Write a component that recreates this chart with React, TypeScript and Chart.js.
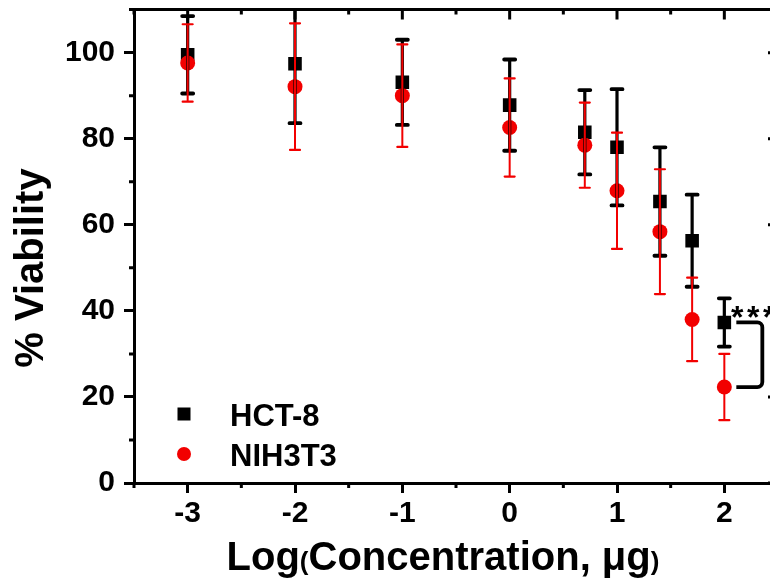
import React, { useEffect, useRef } from "react";
import { Chart, registerables } from "chart.js";

Chart.register(...registerables);

const logConc = [-3, -2, -1, 0, 0.7, 1, 1.4, 1.7, 2];
const hctMean = [99.5, 97.4, 93.1, 87.8, 81.5, 78.0, 65.4, 56.3, 37.3];
const hctErr = [9.0, 13.8, 9.9, 10.6, 9.8, 13.5, 12.6, 10.7, 5.6];
const nihMean = [97.6, 92.1, 90.0, 82.6, 78.5, 67.9, 58.4, 38.0, 22.3];
const nihErr = [9.0, 14.7, 11.9, 11.4, 9.9, 13.5, 14.5, 9.7, 7.7];
const xMajorTicks = [-3, -2, -1, 0, 1, 2];
const xMinorTicks = [-3.5, -2.5, -1.5, -0.5, 0.5, 1.5, 2.5];
const yMajorTicks = [0, 20, 40, 60, 80, 100];
const yMinorTicks = [10, 30, 50, 70, 90, 110];
const seriesNames = ["HCT-8", "NIH3T3"];
const sigLabel = "***";

const FONT = "'Liberation Sans', Arial, sans-serif";
const RED = "#f20000";

function drawErr(ctx: CanvasRenderingContext2D, x: any, y: any, xs: number[], m: number[], e: number[], color: string, lw: number, cap: number, capW: number) {
  ctx.strokeStyle = color;
  for (let i = 0; i < xs.length; i++) {
    const px = x.getPixelForValue(xs[i]);
    const top = y.getPixelForValue(m[i] + e[i]);
    const bot = y.getPixelForValue(m[i] - e[i]);
    ctx.lineWidth = lw;
    ctx.lineCap = "butt";
    ctx.beginPath();
    ctx.moveTo(px, top);
    ctx.lineTo(px, bot);
    ctx.stroke();
    ctx.lineWidth = capW;
    ctx.lineCap = "round";
    ctx.beginPath();
    ctx.moveTo(px - cap, top);
    ctx.lineTo(px + cap, top);
    ctx.moveTo(px - cap, bot);
    ctx.lineTo(px + cap, bot);
    ctx.stroke();
  }
}

const overlay = {
  id: "overlay",
  afterDatasetsDraw(chart: any) {
    const { ctx, chartArea: a, scales } = chart;
    const x = scales.x, y = scales.y;
    ctx.save();
    ctx.beginPath();
    ctx.rect(a.left, a.top, a.right - a.left, a.bottom - a.top);
    ctx.clip();
    drawErr(ctx, x, y, logConc, hctMean, hctErr, "#000", 3.2, 5.5, 3.8);
    drawErr(ctx, x, y, logConc, nihMean, nihErr, RED, 2, 5, 2.2);
    ctx.restore();
  },
  afterDraw(chart: any) {
    const { ctx, chartArea: a, scales } = chart;
    const x = scales.x, y = scales.y;
    ctx.save();
    ctx.strokeStyle = "#000";
    ctx.fillStyle = "#000";
    ctx.lineWidth = 3;
    ctx.lineCap = "butt";
    ctx.beginPath();
    ctx.moveTo(a.left - 1.5, a.top);
    ctx.lineTo(a.right + 1.5, a.top);
    ctx.moveTo(a.right, a.top);
    ctx.lineTo(a.right, a.bottom);
    ctx.stroke();
    ctx.beginPath();
    for (const v of xMajorTicks) {
      const px = x.getPixelForValue(v);
      ctx.moveTo(px, a.top);
      ctx.lineTo(px, a.top + 10);
    }
    for (const v of xMinorTicks) {
      const px = x.getPixelForValue(v);
      ctx.moveTo(px, a.top);
      ctx.lineTo(px, a.top + 5);
      ctx.moveTo(px, a.bottom);
      ctx.lineTo(px, a.bottom + 5);
    }
    for (const v of yMajorTicks) {
      const py = y.getPixelForValue(v);
      ctx.moveTo(a.right, py);
      ctx.lineTo(a.right - 10, py);
    }
    for (const v of yMinorTicks) {
      const py = y.getPixelForValue(v);
      ctx.moveTo(a.left, py);
      ctx.lineTo(a.left - 5, py);
      ctx.moveTo(a.right, py);
      ctx.lineTo(a.right - 5, py);
    }
    ctx.stroke();

    const lx = 184;
    ctx.fillStyle = "#000";
    ctx.fillRect(lx - 6.5, 414 - 6.5, 13, 13);
    ctx.fillStyle = RED;
    ctx.beginPath();
    ctx.arc(lx, 454, 7, 0, Math.PI * 2);
    ctx.fill();
    ctx.fillStyle = "#000";
    ctx.font = `bold 31px ${FONT}`;
    ctx.textAlign = "left";
    ctx.textBaseline = "alphabetic";
    ctx.fillText(seriesNames[0], 230, 426);
    ctx.fillText(seriesNames[1], 230, 466);

    const last = logConc.length - 1;
    const bx = x.getPixelForValue(logConc[last]);
    const yt = y.getPixelForValue(hctMean[last]);
    const yb = y.getPixelForValue(nihMean[last]);
    const x0 = bx + 12, x1 = bx + 38, r = 5;
    ctx.lineWidth = 3.8;
    ctx.beginPath();
    ctx.moveTo(x0, yt);
    ctx.lineTo(x1 - r, yt);
    ctx.arcTo(x1, yt, x1, yt + r, r);
    ctx.lineTo(x1, yb - r);
    ctx.arcTo(x1, yb, x1 - r, yb, r);
    ctx.lineTo(x0, yb);
    ctx.stroke();
    ctx.font = `bold 32px ${FONT}`;
    ctx.textAlign = "center";
    for (let i = 0; i < sigLabel.length; i++) {
      ctx.fillText(sigLabel[i], bx + 13 + i * 16, yt + 6);
    }

    ctx.textAlign = "left";
    const big = `bold 40px ${FONT}`;
    const small = `bold 26px ${FONT}`;
    const parts: [string, string][] = [["Log", big], ["(", small], ["Concentration, μg", big], [")", small]];
    let total = 0;
    for (const [t, f] of parts) { ctx.font = f; total += ctx.measureText(t).width; }
    let cx = 443 - total / 2;
    for (const [t, f] of parts) {
      ctx.font = f;
      ctx.fillText(t, cx, 570);
      cx += ctx.measureText(t).width;
    }
    ctx.save();
    ctx.translate(43, 268);
    ctx.rotate(-Math.PI / 2);
    ctx.font = big;
    ctx.textAlign = "center";
    ctx.fillText("% Viability", 0, 0);
    ctx.restore();
    ctx.restore();
  },
};

export default function App() {
  const ref = useRef<HTMLCanvasElement>(null);
  useEffect(() => {
    if (!ref.current) return;
    const chart = new Chart(ref.current, {
      type: "scatter",
      data: {
        datasets: [
          {
            label: seriesNames[0],
            data: logConc.map((v, i) => ({ x: v, y: hctMean[i] })),
            pointStyle: "rect",
            pointRadius: 9.6,
            backgroundColor: "#000",
            borderWidth: 0,
            order: 2,
          },
          {
            label: seriesNames[1],
            data: logConc.map((v, i) => ({ x: v, y: nihMean[i] })),
            pointStyle: "circle",
            pointRadius: 7.5,
            backgroundColor: RED,
            borderWidth: 0,
            order: 1,
          },
        ],
      },
      options: {
        animation: false,
        responsive: false,
        devicePixelRatio: 1,
        layout: { padding: { top: 9, right: 22, left: 0, bottom: 0 } },
        plugins: { legend: { display: false }, tooltip: { enabled: false } },
        scales: {
          x: {
            type: "linear",
            min: -3.5,
            max: 2.5,
            afterBuildTicks: (s: any) => { s.ticks = xMajorTicks.map((v) => ({ value: v })); },
            afterFit: (s: any) => { s.height = 101; s.paddingLeft = 0; s.paddingRight = 0; s.paddingTop = 0; s.paddingBottom = 0; },
            ticks: { color: "#000", font: { family: FONT, size: 30, weight: "bold" }, padding: 3, callback: (v: any) => String(v) },
            grid: { drawOnChartArea: false, tickLength: 10, tickWidth: 3, tickColor: "#000" },
            border: { display: true, width: 3, color: "#000" },
          },
          y: {
            type: "linear",
            min: 0,
            max: 110,
            afterBuildTicks: (s: any) => { s.ticks = yMajorTicks.map((v) => ({ value: v })); },
            afterFit: (s: any) => { s.width = 134; s.paddingLeft = 0; s.paddingRight = 0; s.paddingTop = 0; s.paddingBottom = 0; },
            ticks: { color: "#000", font: { family: FONT, size: 30, weight: "bold" }, padding: 9, callback: (v: any) => String(v) },
            grid: { drawOnChartArea: false, tickLength: 10, tickWidth: 3, tickColor: "#000" },
            border: { display: true, width: 3, color: "#000" },
          },
        },
      },
      plugins: [overlay],
    });
    return () => chart.destroy();
  }, []);
  return (
    <div style={{ position: "fixed", left: 0, top: 0, width: 770, height: 584, overflow: "hidden", background: "#fff" }}>
      <canvas ref={ref} width={800} height={584} style={{ display: "block", width: 800, height: 584 }} />
    </div>
  );
}
